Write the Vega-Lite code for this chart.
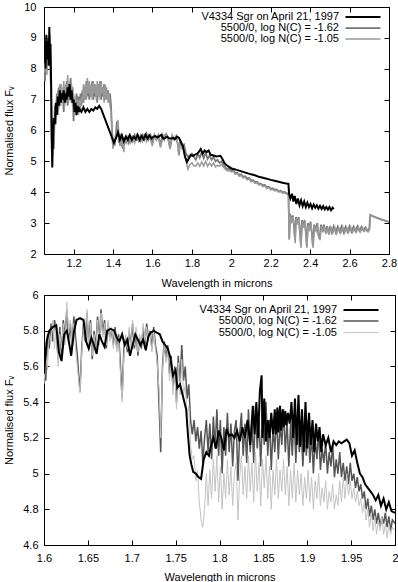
{
  "$schema": "https://vega.github.io/schema/vega-lite/v6.json",
  "padding": {"left": 2, "top": 0, "right": 2, "bottom": 0},
  "columns": 1,
  "spacing": -1,
  "config": {
    "font": "Liberation Sans",
    "view": {"stroke": "black", "strokeWidth": 1},
    "axis": {"domain": false, "grid": false, "tickColor": "black", "tickSize": -5, "tickWidth": 1, "labelColor": "black", "titleColor": "black", "labelFontSize": 11, "titleFontSize": 11, "titleFontWeight": "normal", "labelFlush": false, "labelOverlap": false, "format": "~r"},
    "legend": {"title": null, "orient": "none", "padding": 0, "symbolType": "M-3.5,0H3.5", "symbolSize": 100, "labelAlign": "right", "labelOffset": -30, "labelFontSize": 11, "labelColor": "black", "labelLimit": 0, "rowPadding": 0}
  },
  "resolve": {"scale": {"color": "independent", "strokeWidth": "independent"}},
  "datasets": {
    "top": [
      {"s":"a","x":1.050,"y":8.6},{"s":"a","x":1.055,"y":7.6},{"s":"a","x":1.060,"y":8.9},{"s":"a","x":1.065,"y":8.1},{"s":"a","x":1.070,"y":9.0},{"s":"a","x":1.075,"y":8.2},{"s":"a","x":1.080,"y":8.9},{"s":"a","x":1.085,"y":7.4},{"s":"a","x":1.090,"y":5.2},{"s":"a","x":1.095,"y":6.0},{"s":"a","x":1.100,"y":5.4},{"s":"a","x":1.105,"y":6.8},{"s":"a","x":1.110,"y":6.2},{"s":"a","x":1.115,"y":7.2},{"s":"a","x":1.120,"y":6.5},{"s":"a","x":1.125,"y":7.4},{"s":"a","x":1.130,"y":6.8},{"s":"a","x":1.135,"y":7.5},{"s":"a","x":1.140,"y":6.9},{"s":"a","x":1.145,"y":7.3},{"s":"a","x":1.150,"y":6.6},{"s":"a","x":1.155,"y":7.4},{"s":"a","x":1.160,"y":6.9},{"s":"a","x":1.165,"y":7.6},{"s":"a","x":1.170,"y":6.8},{"s":"a","x":1.175,"y":7.5},{"s":"a","x":1.180,"y":7.0},{"s":"a","x":1.185,"y":7.7},{"s":"a","x":1.190,"y":6.9},{"s":"a","x":1.195,"y":7.4},{"s":"a","x":1.200,"y":6.3},{"s":"a","x":1.205,"y":7.0},{"s":"a","x":1.210,"y":6.6},{"s":"a","x":1.215,"y":7.2},{"s":"a","x":1.220,"y":6.8},{"s":"a","x":1.225,"y":7.1},{"s":"a","x":1.230,"y":6.6},{"s":"a","x":1.235,"y":7.2},{"s":"a","x":1.240,"y":6.8},{"s":"a","x":1.245,"y":7.3},{"s":"a","x":1.250,"y":6.9},{"s":"a","x":1.255,"y":7.4},{"s":"a","x":1.260,"y":7.0},{"s":"a","x":1.265,"y":7.6},{"s":"a","x":1.270,"y":7.1},{"s":"a","x":1.275,"y":7.5},{"s":"a","x":1.280,"y":7.0},{"s":"a","x":1.285,"y":7.4},{"s":"a","x":1.290,"y":7.1},{"s":"a","x":1.295,"y":7.6},{"s":"a","x":1.300,"y":7.0},{"s":"a","x":1.305,"y":7.5},{"s":"a","x":1.310,"y":7.1},{"s":"a","x":1.315,"y":7.4},{"s":"a","x":1.320,"y":6.9},{"s":"a","x":1.325,"y":7.5},{"s":"a","x":1.330,"y":7.1},{"s":"a","x":1.335,"y":7.6},{"s":"a","x":1.340,"y":7.0},{"s":"a","x":1.345,"y":7.4},{"s":"a","x":1.350,"y":7.1},{"s":"a","x":1.355,"y":7.5},{"s":"a","x":1.360,"y":7.0},{"s":"a","x":1.365,"y":7.4},{"s":"a","x":1.370,"y":7.1},{"s":"a","x":1.375,"y":7.3},{"s":"a","x":1.380,"y":6.9},{"s":"a","x":1.385,"y":7.2},{"s":"a","x":1.390,"y":6.8},{"s":"a","x":1.395,"y":6.0},{"s":"a","x":1.400,"y":5.6},{"s":"a","x":1.405,"y":5.5},{"s":"a","x":1.410,"y":5.7},{"s":"a","x":1.415,"y":5.9},{"s":"a","x":1.420,"y":6.3},{"s":"a","x":1.425,"y":6.1},{"s":"a","x":1.430,"y":5.6},{"s":"a","x":1.435,"y":5.9},{"s":"a","x":1.440,"y":5.5},{"s":"a","x":1.445,"y":5.8},{"s":"a","x":1.450,"y":5.4},{"s":"a","x":1.455,"y":5.7},{"s":"a","x":1.460,"y":5.6},{"s":"a","x":1.470,"y":5.8},{"s":"a","x":1.480,"y":5.6},{"s":"a","x":1.490,"y":5.8},{"s":"a","x":1.500,"y":5.65},{"s":"a","x":1.510,"y":5.85},{"s":"a","x":1.520,"y":5.7},{"s":"a","x":1.530,"y":5.8},{"s":"a","x":1.540,"y":5.65},{"s":"a","x":1.550,"y":5.85},{"s":"a","x":1.560,"y":5.7},{"s":"a","x":1.570,"y":5.9},{"s":"a","x":1.580,"y":5.7},{"s":"a","x":1.590,"y":5.85},{"s":"a","x":1.600,"y":5.62},{"s":"a","x":1.610,"y":5.84},{"s":"a","x":1.620,"y":5.70},{"s":"a","x":1.630,"y":5.84},{"s":"a","x":1.640,"y":5.50},{"s":"a","x":1.650,"y":5.86},{"s":"a","x":1.660,"y":5.70},{"s":"a","x":1.670,"y":5.88},{"s":"a","x":1.680,"y":5.74},{"s":"a","x":1.690,"y":5.45},{"s":"a","x":1.700,"y":5.80},{"s":"a","x":1.710,"y":5.70},{"s":"a","x":1.720,"y":5.82},{"s":"a","x":1.730,"y":5.50},{"s":"a","x":1.735,"y":5.2},{"s":"a","x":1.740,"y":5.70},{"s":"a","x":1.750,"y":5.50},{"s":"a","x":1.760,"y":5.55},{"s":"a","x":1.770,"y":5.25},{"s":"a","x":1.780,"y":5.15},{"s":"a","x":1.790,"y":5.20},{"s":"a","x":1.800,"y":5.25},{"s":"a","x":1.810,"y":5.15},{"s":"a","x":1.820,"y":5.05},{"s":"a","x":1.830,"y":5.25},{"s":"a","x":1.840,"y":5.12},{"s":"a","x":1.850,"y":5.30},{"s":"a","x":1.860,"y":5.10},{"s":"a","x":1.870,"y":5.28},{"s":"a","x":1.880,"y":5.08},{"s":"a","x":1.890,"y":5.20},{"s":"a","x":1.900,"y":5.05},{"s":"a","x":1.910,"y":5.15},{"s":"a","x":1.920,"y":5.00},{"s":"a","x":1.930,"y":5.05},{"s":"a","x":1.940,"y":4.95},{"s":"a","x":1.950,"y":5.00},{"s":"a","x":1.960,"y":4.90},{"s":"a","x":1.970,"y":4.80},{"s":"a","x":1.980,"y":4.75},{"s":"a","x":1.990,"y":4.78},{"s":"a","x":2.000,"y":4.70},{"s":"a","x":2.010,"y":4.72},{"s":"a","x":2.020,"y":4.62},{"s":"a","x":2.030,"y":4.64},{"s":"a","x":2.040,"y":4.56},{"s":"a","x":2.050,"y":4.58},{"s":"a","x":2.060,"y":4.50},{"s":"a","x":2.070,"y":4.52},{"s":"a","x":2.080,"y":4.45},{"s":"a","x":2.090,"y":4.46},{"s":"a","x":2.100,"y":4.38},{"s":"a","x":2.110,"y":4.40},{"s":"a","x":2.120,"y":4.33},{"s":"a","x":2.130,"y":4.34},{"s":"a","x":2.140,"y":4.27},{"s":"a","x":2.150,"y":4.28},{"s":"a","x":2.160,"y":4.22},{"s":"a","x":2.170,"y":4.24},{"s":"a","x":2.180,"y":4.16},{"s":"a","x":2.190,"y":4.18},{"s":"a","x":2.200,"y":4.12},{"s":"a","x":2.210,"y":4.13},{"s":"a","x":2.220,"y":4.08},{"s":"a","x":2.230,"y":4.09},{"s":"a","x":2.240,"y":4.03},{"s":"a","x":2.250,"y":4.05},{"s":"a","x":2.260,"y":4.00},{"s":"a","x":2.270,"y":4.01},{"s":"a","x":2.280,"y":3.97},{"s":"a","x":2.290,"y":3.95},{"s":"a","x":2.294,"y":2.5},{"s":"a","x":2.298,"y":3.3},{"s":"a","x":2.305,"y":3.1},{"s":"a","x":2.312,"y":3.25},{"s":"a","x":2.318,"y":2.9},{"s":"a","x":2.323,"y":2.45},{"s":"a","x":2.328,"y":3.2},{"s":"a","x":2.335,"y":3.0},{"s":"a","x":2.342,"y":3.2},{"s":"a","x":2.348,"y":2.7},{"s":"a","x":2.353,"y":2.3},{"s":"a","x":2.358,"y":3.1},{"s":"a","x":2.365,"y":2.9},{"s":"a","x":2.372,"y":3.1},{"s":"a","x":2.378,"y":2.7},{"s":"a","x":2.383,"y":2.25},{"s":"a","x":2.388,"y":3.0},{"s":"a","x":2.395,"y":2.85},{"s":"a","x":2.402,"y":3.05},{"s":"a","x":2.408,"y":2.7},{"s":"a","x":2.414,"y":2.25},{"s":"a","x":2.420,"y":2.95},{"s":"a","x":2.428,"y":2.8},{"s":"a","x":2.436,"y":3.0},{"s":"a","x":2.442,"y":2.6},{"s":"a","x":2.448,"y":2.5},{"s":"a","x":2.455,"y":2.95},{"s":"a","x":2.462,"y":2.75},{"s":"a","x":2.470,"y":2.95},{"s":"a","x":2.478,"y":2.7},{"s":"a","x":2.486,"y":2.9},{"s":"a","x":2.494,"y":2.65},{"s":"a","x":2.502,"y":2.9},{"s":"a","x":2.510,"y":2.7},{"s":"a","x":2.520,"y":2.9},{"s":"a","x":2.530,"y":2.7},{"s":"a","x":2.540,"y":2.88},{"s":"a","x":2.550,"y":2.72},{"s":"a","x":2.560,"y":2.9},{"s":"a","x":2.570,"y":2.7},{"s":"a","x":2.580,"y":2.88},{"s":"a","x":2.590,"y":2.72},{"s":"a","x":2.600,"y":2.9},{"s":"a","x":2.610,"y":2.72},{"s":"a","x":2.620,"y":2.88},{"s":"a","x":2.630,"y":2.74},{"s":"a","x":2.640,"y":2.9},{"s":"a","x":2.650,"y":2.75},{"s":"a","x":2.660,"y":2.88},{"s":"a","x":2.670,"y":2.76},{"s":"a","x":2.680,"y":2.86},{"s":"a","x":2.690,"y":2.74},{"s":"a","x":2.700,"y":2.82},{"s":"a","x":2.705,"y":3.27},{"s":"a","x":2.720,"y":3.22},{"s":"a","x":2.740,"y":3.17},{"s":"a","x":2.760,"y":3.12},{"s":"a","x":2.780,"y":3.08},{"s":"a","x":2.800,"y":3.04},
      {"s":"b","x":1.050,"y":8.3},{"s":"b","x":1.055,"y":7.9},{"s":"b","x":1.060,"y":8.6},{"s":"b","x":1.065,"y":7.8},{"s":"b","x":1.070,"y":8.8},{"s":"b","x":1.075,"y":8.5},{"s":"b","x":1.080,"y":9.1},{"s":"b","x":1.085,"y":7.0},{"s":"b","x":1.090,"y":5.0},{"s":"b","x":1.095,"y":6.2},{"s":"b","x":1.100,"y":5.8},{"s":"b","x":1.105,"y":6.5},{"s":"b","x":1.110,"y":6.9},{"s":"b","x":1.115,"y":6.6},{"s":"b","x":1.120,"y":7.3},{"s":"b","x":1.125,"y":6.7},{"s":"b","x":1.130,"y":7.5},{"s":"b","x":1.135,"y":6.8},{"s":"b","x":1.140,"y":7.4},{"s":"b","x":1.145,"y":6.9},{"s":"b","x":1.150,"y":7.6},{"s":"b","x":1.155,"y":6.8},{"s":"b","x":1.160,"y":7.5},{"s":"b","x":1.165,"y":7.1},{"s":"b","x":1.170,"y":7.8},{"s":"b","x":1.175,"y":6.9},{"s":"b","x":1.180,"y":7.6},{"s":"b","x":1.185,"y":7.1},{"s":"b","x":1.190,"y":7.5},{"s":"b","x":1.195,"y":6.8},{"s":"b","x":1.200,"y":7.2},{"s":"b","x":1.205,"y":6.5},{"s":"b","x":1.210,"y":7.1},{"s":"b","x":1.215,"y":6.7},{"s":"b","x":1.220,"y":7.0},{"s":"b","x":1.225,"y":6.5},{"s":"b","x":1.230,"y":7.0},{"s":"b","x":1.235,"y":6.7},{"s":"b","x":1.240,"y":7.1},{"s":"b","x":1.245,"y":6.9},{"s":"b","x":1.250,"y":7.5},{"s":"b","x":1.255,"y":7.0},{"s":"b","x":1.260,"y":7.5},{"s":"b","x":1.265,"y":7.0},{"s":"b","x":1.270,"y":7.7},{"s":"b","x":1.275,"y":7.2},{"s":"b","x":1.280,"y":7.6},{"s":"b","x":1.285,"y":7.1},{"s":"b","x":1.290,"y":7.5},{"s":"b","x":1.295,"y":7.0},{"s":"b","x":1.300,"y":7.6},{"s":"b","x":1.305,"y":7.2},{"s":"b","x":1.310,"y":7.5},{"s":"b","x":1.315,"y":7.0},{"s":"b","x":1.320,"y":7.6},{"s":"b","x":1.325,"y":7.1},{"s":"b","x":1.330,"y":7.5},{"s":"b","x":1.335,"y":7.0},{"s":"b","x":1.340,"y":7.6},{"s":"b","x":1.345,"y":7.2},{"s":"b","x":1.350,"y":7.4},{"s":"b","x":1.355,"y":6.9},{"s":"b","x":1.360,"y":7.5},{"s":"b","x":1.365,"y":7.0},{"s":"b","x":1.370,"y":7.3},{"s":"b","x":1.375,"y":6.9},{"s":"b","x":1.380,"y":7.2},{"s":"b","x":1.385,"y":6.8},{"s":"b","x":1.390,"y":6.6},{"s":"b","x":1.395,"y":5.8},{"s":"b","x":1.400,"y":5.4},{"s":"b","x":1.405,"y":5.7},{"s":"b","x":1.410,"y":5.5},{"s":"b","x":1.415,"y":6.0},{"s":"b","x":1.420,"y":5.8},{"s":"b","x":1.425,"y":6.35},{"s":"b","x":1.430,"y":5.8},{"s":"b","x":1.435,"y":5.5},{"s":"b","x":1.440,"y":5.75},{"s":"b","x":1.445,"y":5.45},{"s":"b","x":1.450,"y":5.7},{"s":"b","x":1.455,"y":5.3},{"s":"b","x":1.460,"y":5.8},{"s":"b","x":1.470,"y":5.6},{"s":"b","x":1.480,"y":5.85},{"s":"b","x":1.490,"y":5.6},{"s":"b","x":1.500,"y":5.8},{"s":"b","x":1.510,"y":5.6},{"s":"b","x":1.520,"y":5.85},{"s":"b","x":1.530,"y":5.65},{"s":"b","x":1.540,"y":5.85},{"s":"b","x":1.550,"y":5.65},{"s":"b","x":1.560,"y":5.9},{"s":"b","x":1.570,"y":5.65},{"s":"b","x":1.580,"y":5.85},{"s":"b","x":1.590,"y":5.7},{"s":"b","x":1.600,"y":5.5},{"s":"b","x":1.610,"y":5.86},{"s":"b","x":1.620,"y":5.70},{"s":"b","x":1.630,"y":5.86},{"s":"b","x":1.641,"y":5.45},{"s":"b","x":1.650,"y":5.70},{"s":"b","x":1.660,"y":5.86},{"s":"b","x":1.670,"y":5.84},{"s":"b","x":1.680,"y":5.70},{"s":"b","x":1.689,"y":5.40},{"s":"b","x":1.700,"y":5.86},{"s":"b","x":1.710,"y":5.72},{"s":"b","x":1.720,"y":5.78},{"s":"b","x":1.730,"y":5.55},{"s":"b","x":1.733,"y":5.2},{"s":"b","x":1.740,"y":5.70},{"s":"b","x":1.750,"y":5.40},{"s":"b","x":1.760,"y":5.45},{"s":"b","x":1.770,"y":5.05},{"s":"b","x":1.780,"y":4.75},{"s":"b","x":1.790,"y":4.90},{"s":"b","x":1.800,"y":4.95},{"s":"b","x":1.810,"y":4.85},{"s":"b","x":1.820,"y":4.85},{"s":"b","x":1.830,"y":4.95},{"s":"b","x":1.840,"y":4.84},{"s":"b","x":1.850,"y":4.98},{"s":"b","x":1.860,"y":4.85},{"s":"b","x":1.870,"y":5.0},{"s":"b","x":1.880,"y":4.84},{"s":"b","x":1.890,"y":4.95},{"s":"b","x":1.900,"y":4.85},{"s":"b","x":1.910,"y":4.95},{"s":"b","x":1.920,"y":4.82},{"s":"b","x":1.930,"y":4.88},{"s":"b","x":1.940,"y":4.84},{"s":"b","x":1.950,"y":4.90},{"s":"b","x":1.960,"y":4.82},{"s":"b","x":1.970,"y":4.74},{"s":"b","x":1.980,"y":4.70},{"s":"b","x":1.990,"y":4.70},{"s":"b","x":2.000,"y":4.66},{"s":"b","x":2.010,"y":4.68},{"s":"b","x":2.020,"y":4.58},{"s":"b","x":2.030,"y":4.61},{"s":"b","x":2.040,"y":4.52},{"s":"b","x":2.050,"y":4.55},{"s":"b","x":2.060,"y":4.46},{"s":"b","x":2.070,"y":4.49},{"s":"b","x":2.080,"y":4.40},{"s":"b","x":2.090,"y":4.43},{"s":"b","x":2.100,"y":4.34},{"s":"b","x":2.110,"y":4.37},{"s":"b","x":2.120,"y":4.29},{"s":"b","x":2.130,"y":4.31},{"s":"b","x":2.140,"y":4.23},{"s":"b","x":2.150,"y":4.26},{"s":"b","x":2.160,"y":4.18},{"s":"b","x":2.170,"y":4.21},{"s":"b","x":2.180,"y":4.12},{"s":"b","x":2.190,"y":4.15},{"s":"b","x":2.200,"y":4.08},{"s":"b","x":2.210,"y":4.10},{"s":"b","x":2.220,"y":4.04},{"s":"b","x":2.230,"y":4.06},{"s":"b","x":2.240,"y":4.00},{"s":"b","x":2.250,"y":4.02},{"s":"b","x":2.260,"y":3.97},{"s":"b","x":2.270,"y":3.98},{"s":"b","x":2.280,"y":3.94},{"s":"b","x":2.290,"y":3.92},{"s":"b","x":2.294,"y":2.45},{"s":"b","x":2.300,"y":3.25},{"s":"b","x":2.307,"y":3.05},{"s":"b","x":2.314,"y":3.2},{"s":"b","x":2.319,"y":2.8},{"s":"b","x":2.324,"y":2.35},{"s":"b","x":2.330,"y":3.15},{"s":"b","x":2.337,"y":2.95},{"s":"b","x":2.344,"y":3.15},{"s":"b","x":2.349,"y":2.6},{"s":"b","x":2.354,"y":2.2},{"s":"b","x":2.360,"y":3.05},{"s":"b","x":2.367,"y":2.85},{"s":"b","x":2.374,"y":3.05},{"s":"b","x":2.379,"y":2.6},{"s":"b","x":2.384,"y":2.2},{"s":"b","x":2.390,"y":2.95},{"s":"b","x":2.397,"y":2.8},{"s":"b","x":2.404,"y":3.0},{"s":"b","x":2.409,"y":2.6},{"s":"b","x":2.415,"y":2.2},{"s":"b","x":2.422,"y":2.9},{"s":"b","x":2.430,"y":2.75},{"s":"b","x":2.438,"y":2.95},{"s":"b","x":2.444,"y":2.55},{"s":"b","x":2.450,"y":2.45},{"s":"b","x":2.457,"y":2.9},{"s":"b","x":2.464,"y":2.7},{"s":"b","x":2.472,"y":2.9},{"s":"b","x":2.480,"y":2.65},{"s":"b","x":2.488,"y":2.88},{"s":"b","x":2.496,"y":2.62},{"s":"b","x":2.505,"y":2.86},{"s":"b","x":2.515,"y":2.68},{"s":"b","x":2.525,"y":2.86},{"s":"b","x":2.535,"y":2.66},{"s":"b","x":2.545,"y":2.86},{"s":"b","x":2.555,"y":2.68},{"s":"b","x":2.565,"y":2.88},{"s":"b","x":2.575,"y":2.68},{"s":"b","x":2.585,"y":2.86},{"s":"b","x":2.595,"y":2.7},{"s":"b","x":2.605,"y":2.88},{"s":"b","x":2.615,"y":2.7},{"s":"b","x":2.625,"y":2.86},{"s":"b","x":2.635,"y":2.72},{"s":"b","x":2.645,"y":2.88},{"s":"b","x":2.655,"y":2.72},{"s":"b","x":2.665,"y":2.86},{"s":"b","x":2.675,"y":2.74},{"s":"b","x":2.685,"y":2.84},{"s":"b","x":2.695,"y":2.72},{"s":"b","x":2.702,"y":2.8},{"s":"b","x":2.706,"y":3.25},{"s":"b","x":2.720,"y":3.21},{"s":"b","x":2.740,"y":3.16},{"s":"b","x":2.760,"y":3.11},{"s":"b","x":2.780,"y":3.07},{"s":"b","x":2.800,"y":3.03},
      {"s":"o","x":1.050,"y":8.2},{"s":"o","x":1.054,"y":8.9},{"s":"o","x":1.058,"y":8.0},{"s":"o","x":1.062,"y":9.1},{"s":"o","x":1.066,"y":8.3},{"s":"o","x":1.070,"y":8.9},{"s":"o","x":1.074,"y":8.1},{"s":"o","x":1.077,"y":9.35},{"s":"o","x":1.080,"y":8.4},{"s":"o","x":1.083,"y":8.8},{"s":"o","x":1.086,"y":7.6},{"s":"o","x":1.089,"y":6.0},{"s":"o","x":1.092,"y":4.8},{"s":"o","x":1.095,"y":5.6},{"s":"o","x":1.100,"y":6.4},{"s":"o","x":1.105,"y":6.2},{"s":"o","x":1.110,"y":6.9},{"s":"o","x":1.115,"y":6.5},{"s":"o","x":1.120,"y":7.1},{"s":"o","x":1.125,"y":6.8},{"s":"o","x":1.130,"y":7.3},{"s":"o","x":1.135,"y":6.9},{"s":"o","x":1.140,"y":7.2},{"s":"o","x":1.145,"y":7.0},{"s":"o","x":1.150,"y":7.3},{"s":"o","x":1.155,"y":6.9},{"s":"o","x":1.160,"y":7.2},{"s":"o","x":1.165,"y":7.0},{"s":"o","x":1.170,"y":7.4},{"s":"o","x":1.175,"y":7.1},{"s":"o","x":1.180,"y":7.5},{"s":"o","x":1.185,"y":7.0},{"s":"o","x":1.190,"y":7.3},{"s":"o","x":1.195,"y":6.9},{"s":"o","x":1.200,"y":7.0},{"s":"o","x":1.205,"y":6.6},{"s":"o","x":1.210,"y":6.9},{"s":"o","x":1.215,"y":6.5},{"s":"o","x":1.220,"y":6.8},{"s":"o","x":1.225,"y":6.6},{"s":"o","x":1.230,"y":6.7},{"s":"o","x":1.240,"y":6.6},{"s":"o","x":1.250,"y":6.75},{"s":"o","x":1.260,"y":6.6},{"s":"o","x":1.270,"y":6.7},{"s":"o","x":1.280,"y":6.6},{"s":"o","x":1.290,"y":6.7},{"s":"o","x":1.300,"y":6.65},{"s":"o","x":1.310,"y":6.75},{"s":"o","x":1.320,"y":6.7},{"s":"o","x":1.330,"y":6.8},{"s":"o","x":1.340,"y":6.7},{"s":"o","x":1.405,"y":5.6},{"s":"o","x":1.415,"y":5.75},{"s":"o","x":1.425,"y":5.95},{"s":"o","x":1.435,"y":5.7},{"s":"o","x":1.445,"y":5.85},{"s":"o","x":1.455,"y":5.65},{"s":"o","x":1.465,"y":5.8},{"s":"o","x":1.475,"y":5.7},{"s":"o","x":1.485,"y":5.85},{"s":"o","x":1.495,"y":5.7},{"s":"o","x":1.505,"y":5.8},{"s":"o","x":1.515,"y":5.72},{"s":"o","x":1.525,"y":5.86},{"s":"o","x":1.535,"y":5.7},{"s":"o","x":1.545,"y":5.82},{"s":"o","x":1.555,"y":5.72},{"s":"o","x":1.565,"y":5.86},{"s":"o","x":1.575,"y":5.74},{"s":"o","x":1.585,"y":5.84},{"s":"o","x":1.595,"y":5.74},{"s":"o","x":1.605,"y":5.80},{"s":"o","x":1.615,"y":5.82},{"s":"o","x":1.625,"y":5.78},{"s":"o","x":1.635,"y":5.82},{"s":"o","x":1.645,"y":5.86},{"s":"o","x":1.655,"y":5.74},{"s":"o","x":1.665,"y":5.76},{"s":"o","x":1.675,"y":5.80},{"s":"o","x":1.685,"y":5.75},{"s":"o","x":1.695,"y":5.74},{"s":"o","x":1.705,"y":5.76},{"s":"o","x":1.715,"y":5.72},{"s":"o","x":1.725,"y":5.80},{"s":"o","x":1.735,"y":5.76},{"s":"o","x":1.745,"y":5.62},{"s":"o","x":1.755,"y":5.48},{"s":"o","x":1.765,"y":5.15},{"s":"o","x":1.775,"y":4.98},{"s":"o","x":1.785,"y":5.10},{"s":"o","x":1.795,"y":5.20},{"s":"o","x":1.805,"y":5.18},{"s":"o","x":1.815,"y":5.22},{"s":"o","x":1.825,"y":5.24},{"s":"o","x":1.835,"y":5.30},{"s":"o","x":1.845,"y":5.40},{"s":"o","x":1.855,"y":5.25},{"s":"o","x":1.865,"y":5.35},{"s":"o","x":1.875,"y":5.30},{"s":"o","x":1.885,"y":5.35},{"s":"o","x":1.895,"y":5.22},{"s":"o","x":1.905,"y":5.20},{"s":"o","x":1.915,"y":5.18},{"s":"o","x":1.925,"y":5.16},{"s":"o","x":1.935,"y":5.17},{"s":"o","x":1.945,"y":5.18},{"s":"o","x":1.955,"y":5.08},{"s":"o","x":1.965,"y":4.95},{"s":"o","x":1.975,"y":4.88},{"s":"o","x":1.985,"y":4.84},{"s":"o","x":1.995,"y":4.80},{"s":"o","x":2.005,"y":4.76},{"s":"o","x":2.020,"y":4.74},{"s":"o","x":2.040,"y":4.70},{"s":"o","x":2.060,"y":4.66},{"s":"o","x":2.080,"y":4.62},{"s":"o","x":2.100,"y":4.58},{"s":"o","x":2.120,"y":4.55},{"s":"o","x":2.140,"y":4.50},{"s":"o","x":2.160,"y":4.47},{"s":"o","x":2.180,"y":4.44},{"s":"o","x":2.200,"y":4.40},{"s":"o","x":2.220,"y":4.37},{"s":"o","x":2.240,"y":4.34},{"s":"o","x":2.260,"y":4.31},{"s":"o","x":2.280,"y":4.28},{"s":"o","x":2.290,"y":4.27},{"s":"o","x":2.293,"y":3.95},{"s":"o","x":2.300,"y":3.80},{"s":"o","x":2.308,"y":3.95},{"s":"o","x":2.315,"y":3.70},{"s":"o","x":2.322,"y":3.88},{"s":"o","x":2.330,"y":3.62},{"s":"o","x":2.338,"y":3.80},{"s":"o","x":2.346,"y":3.58},{"s":"o","x":2.354,"y":3.74},{"s":"o","x":2.362,"y":3.55},{"s":"o","x":2.370,"y":3.70},{"s":"o","x":2.378,"y":3.52},{"s":"o","x":2.386,"y":3.66},{"s":"o","x":2.394,"y":3.52},{"s":"o","x":2.402,"y":3.62},{"s":"o","x":2.410,"y":3.48},{"s":"o","x":2.418,"y":3.60},{"s":"o","x":2.426,"y":3.50},{"s":"o","x":2.434,"y":3.58},{"s":"o","x":2.442,"y":3.47},{"s":"o","x":2.450,"y":3.56},{"s":"o","x":2.458,"y":3.46},{"s":"o","x":2.466,"y":3.55},{"s":"o","x":2.474,"y":3.45},{"s":"o","x":2.482,"y":3.52},{"s":"o","x":2.490,"y":3.44},{"s":"o","x":2.498,"y":3.52},{"s":"o","x":2.506,"y":3.42},{"s":"o","x":2.514,"y":3.50},{"s":"o","x":2.520,"y":3.45}
    ],
    "bot": [
      {"s":"a","x":1.600,"y":5.62},{"s":"a","x":1.602,"y":5.52},{"s":"a","x":1.604,"y":5.78},{"s":"a","x":1.606,"y":5.70},{"s":"a","x":1.608,"y":5.84},{"s":"a","x":1.610,"y":5.74},{"s":"a","x":1.612,"y":5.86},{"s":"a","x":1.614,"y":5.80},{"s":"a","x":1.616,"y":5.64},{"s":"a","x":1.618,"y":5.82},{"s":"a","x":1.620,"y":5.66},{"s":"a","x":1.622,"y":5.86},{"s":"a","x":1.624,"y":5.76},{"s":"a","x":1.626,"y":5.92},{"s":"a","x":1.628,"y":5.75},{"s":"a","x":1.630,"y":5.84},{"s":"a","x":1.632,"y":5.70},{"s":"a","x":1.634,"y":5.88},{"s":"a","x":1.636,"y":5.76},{"s":"a","x":1.638,"y":5.66},{"s":"a","x":1.640,"y":5.52},{"s":"a","x":1.641,"y":5.46},{"s":"a","x":1.643,"y":5.70},{"s":"a","x":1.645,"y":5.84},{"s":"a","x":1.647,"y":5.74},{"s":"a","x":1.649,"y":5.90},{"s":"a","x":1.651,"y":5.72},{"s":"a","x":1.653,"y":5.86},{"s":"a","x":1.655,"y":5.64},{"s":"a","x":1.657,"y":5.80},{"s":"a","x":1.659,"y":5.70},{"s":"a","x":1.661,"y":5.88},{"s":"a","x":1.663,"y":5.74},{"s":"a","x":1.665,"y":5.92},{"s":"a","x":1.667,"y":5.78},{"s":"a","x":1.669,"y":5.86},{"s":"a","x":1.671,"y":5.70},{"s":"a","x":1.673,"y":5.84},{"s":"a","x":1.675,"y":5.76},{"s":"a","x":1.677,"y":5.80},{"s":"a","x":1.679,"y":5.72},{"s":"a","x":1.681,"y":5.82},{"s":"a","x":1.683,"y":5.70},{"s":"a","x":1.685,"y":5.78},{"s":"a","x":1.687,"y":5.62},{"s":"a","x":1.689,"y":5.42},{"s":"a","x":1.691,"y":5.70},{"s":"a","x":1.693,"y":5.76},{"s":"a","x":1.695,"y":5.68},{"s":"a","x":1.697,"y":5.80},{"s":"a","x":1.699,"y":5.72},{"s":"a","x":1.701,"y":5.84},{"s":"a","x":1.703,"y":5.70},{"s":"a","x":1.705,"y":5.80},{"s":"a","x":1.707,"y":5.66},{"s":"a","x":1.709,"y":5.76},{"s":"a","x":1.711,"y":5.70},{"s":"a","x":1.713,"y":5.82},{"s":"a","x":1.715,"y":5.72},{"s":"a","x":1.717,"y":5.84},{"s":"a","x":1.719,"y":5.76},{"s":"a","x":1.721,"y":5.80},{"s":"a","x":1.723,"y":5.70},{"s":"a","x":1.725,"y":5.82},{"s":"a","x":1.727,"y":5.72},{"s":"a","x":1.729,"y":5.66},{"s":"a","x":1.731,"y":5.40},{"s":"a","x":1.733,"y":5.12},{"s":"a","x":1.735,"y":5.60},{"s":"a","x":1.737,"y":5.74},{"s":"a","x":1.739,"y":5.64},{"s":"a","x":1.741,"y":5.72},{"s":"a","x":1.743,"y":5.56},{"s":"a","x":1.745,"y":5.66},{"s":"a","x":1.747,"y":5.48},{"s":"a","x":1.749,"y":5.60},{"s":"a","x":1.751,"y":5.40},{"s":"a","x":1.753,"y":5.66},{"s":"a","x":1.755,"y":5.50},{"s":"a","x":1.757,"y":5.72},{"s":"a","x":1.759,"y":5.52},{"s":"a","x":1.761,"y":5.60},{"s":"a","x":1.763,"y":5.42},{"s":"a","x":1.765,"y":5.50},{"s":"a","x":1.767,"y":5.30},{"s":"a","x":1.769,"y":5.22},{"s":"a","x":1.771,"y":5.30},{"s":"a","x":1.773,"y":5.18},{"s":"a","x":1.775,"y":5.26},{"s":"a","x":1.777,"y":5.14},{"s":"a","x":1.779,"y":5.24},{"s":"a","x":1.781,"y":5.06},{"s":"a","x":1.783,"y":5.20},{"s":"a","x":1.785,"y":5.30},{"s":"a","x":1.787,"y":5.12},{"s":"a","x":1.789,"y":5.28},{"s":"a","x":1.791,"y":5.08},{"s":"a","x":1.793,"y":5.32},{"s":"a","x":1.795,"y":5.14},{"s":"a","x":1.797,"y":5.36},{"s":"a","x":1.799,"y":5.10},{"s":"a","x":1.801,"y":5.30},{"s":"a","x":1.803,"y":5.00},{"s":"a","x":1.805,"y":5.26},{"s":"a","x":1.807,"y":5.10},{"s":"a","x":1.809,"y":5.34},{"s":"a","x":1.811,"y":5.12},{"s":"a","x":1.813,"y":5.28},{"s":"a","x":1.815,"y":5.04},{"s":"a","x":1.817,"y":5.24},{"s":"a","x":1.819,"y":5.30},{"s":"a","x":1.821,"y":4.96},{"s":"a","x":1.823,"y":5.22},{"s":"a","x":1.825,"y":5.34},{"s":"a","x":1.827,"y":5.10},{"s":"a","x":1.829,"y":5.28},{"s":"a","x":1.831,"y":5.06},{"s":"a","x":1.833,"y":5.36},{"s":"a","x":1.835,"y":5.12},{"s":"a","x":1.837,"y":5.30},{"s":"a","x":1.839,"y":5.06},{"s":"a","x":1.841,"y":5.38},{"s":"a","x":1.843,"y":5.14},{"s":"a","x":1.845,"y":5.30},{"s":"a","x":1.847,"y":5.04},{"s":"a","x":1.849,"y":5.34},{"s":"a","x":1.851,"y":5.16},{"s":"a","x":1.853,"y":5.40},{"s":"a","x":1.855,"y":5.10},{"s":"a","x":1.857,"y":5.30},{"s":"a","x":1.859,"y":5.02},{"s":"a","x":1.861,"y":5.26},{"s":"a","x":1.863,"y":5.12},{"s":"a","x":1.865,"y":5.34},{"s":"a","x":1.867,"y":5.08},{"s":"a","x":1.869,"y":5.28},{"s":"a","x":1.871,"y":5.16},{"s":"a","x":1.873,"y":5.36},{"s":"a","x":1.875,"y":5.12},{"s":"a","x":1.877,"y":5.30},{"s":"a","x":1.879,"y":5.04},{"s":"a","x":1.881,"y":5.28},{"s":"a","x":1.883,"y":5.10},{"s":"a","x":1.885,"y":5.34},{"s":"a","x":1.887,"y":5.06},{"s":"a","x":1.889,"y":5.30},{"s":"a","x":1.891,"y":5.12},{"s":"a","x":1.893,"y":5.26},{"s":"a","x":1.895,"y":5.04},{"s":"a","x":1.897,"y":5.24},{"s":"a","x":1.899,"y":5.10},{"s":"a","x":1.901,"y":5.30},{"s":"a","x":1.903,"y":5.06},{"s":"a","x":1.905,"y":5.22},{"s":"a","x":1.907,"y":5.00},{"s":"a","x":1.909,"y":5.20},{"s":"a","x":1.911,"y":5.08},{"s":"a","x":1.913,"y":5.24},{"s":"a","x":1.915,"y":5.02},{"s":"a","x":1.917,"y":5.14},{"s":"a","x":1.919,"y":5.06},{"s":"a","x":1.921,"y":5.18},{"s":"a","x":1.923,"y":5.00},{"s":"a","x":1.925,"y":5.12},{"s":"a","x":1.927,"y":5.04},{"s":"a","x":1.929,"y":5.16},{"s":"a","x":1.931,"y":4.98},{"s":"a","x":1.933,"y":5.08},{"s":"a","x":1.935,"y":5.00},{"s":"a","x":1.937,"y":5.12},{"s":"a","x":1.939,"y":4.98},{"s":"a","x":1.941,"y":5.06},{"s":"a","x":1.943,"y":4.96},{"s":"a","x":1.945,"y":5.04},{"s":"a","x":1.947,"y":4.94},{"s":"a","x":1.949,"y":5.06},{"s":"a","x":1.951,"y":4.96},{"s":"a","x":1.953,"y":5.00},{"s":"a","x":1.955,"y":4.92},{"s":"a","x":1.957,"y":4.98},{"s":"a","x":1.959,"y":4.90},{"s":"a","x":1.961,"y":4.94},{"s":"a","x":1.963,"y":4.86},{"s":"a","x":1.965,"y":4.90},{"s":"a","x":1.967,"y":4.80},{"s":"a","x":1.969,"y":4.86},{"s":"a","x":1.971,"y":4.76},{"s":"a","x":1.973,"y":4.82},{"s":"a","x":1.975,"y":4.74},{"s":"a","x":1.977,"y":4.80},{"s":"a","x":1.979,"y":4.72},{"s":"a","x":1.981,"y":4.78},{"s":"a","x":1.983,"y":4.70},{"s":"a","x":1.985,"y":4.76},{"s":"a","x":1.987,"y":4.72},{"s":"a","x":1.989,"y":4.78},{"s":"a","x":1.991,"y":4.70},{"s":"a","x":1.993,"y":4.76},{"s":"a","x":1.995,"y":4.68},{"s":"a","x":1.997,"y":4.74},{"s":"a","x":2.000,"y":4.72},
      {"s":"b","x":1.600,"y":5.50},{"s":"b","x":1.602,"y":5.66},{"s":"b","x":1.604,"y":5.58},{"s":"b","x":1.606,"y":5.80},{"s":"b","x":1.608,"y":5.74},{"s":"b","x":1.610,"y":5.86},{"s":"b","x":1.612,"y":5.70},{"s":"b","x":1.614,"y":5.84},{"s":"b","x":1.616,"y":5.60},{"s":"b","x":1.618,"y":5.78},{"s":"b","x":1.620,"y":5.70},{"s":"b","x":1.622,"y":5.84},{"s":"b","x":1.624,"y":5.72},{"s":"b","x":1.626,"y":5.96},{"s":"b","x":1.628,"y":5.78},{"s":"b","x":1.630,"y":5.86},{"s":"b","x":1.632,"y":5.72},{"s":"b","x":1.634,"y":5.84},{"s":"b","x":1.636,"y":5.70},{"s":"b","x":1.638,"y":5.60},{"s":"b","x":1.640,"y":5.50},{"s":"b","x":1.641,"y":5.45},{"s":"b","x":1.643,"y":5.68},{"s":"b","x":1.645,"y":5.82},{"s":"b","x":1.647,"y":5.76},{"s":"b","x":1.649,"y":5.92},{"s":"b","x":1.651,"y":5.70},{"s":"b","x":1.653,"y":5.84},{"s":"b","x":1.655,"y":5.66},{"s":"b","x":1.657,"y":5.78},{"s":"b","x":1.659,"y":5.68},{"s":"b","x":1.661,"y":5.86},{"s":"b","x":1.663,"y":5.72},{"s":"b","x":1.665,"y":5.90},{"s":"b","x":1.667,"y":5.76},{"s":"b","x":1.669,"y":5.84},{"s":"b","x":1.671,"y":5.72},{"s":"b","x":1.673,"y":5.86},{"s":"b","x":1.675,"y":5.74},{"s":"b","x":1.677,"y":5.82},{"s":"b","x":1.679,"y":5.70},{"s":"b","x":1.681,"y":5.80},{"s":"b","x":1.683,"y":5.68},{"s":"b","x":1.685,"y":5.76},{"s":"b","x":1.687,"y":5.58},{"s":"b","x":1.689,"y":5.40},{"s":"b","x":1.691,"y":5.66},{"s":"b","x":1.693,"y":5.78},{"s":"b","x":1.695,"y":5.70},{"s":"b","x":1.697,"y":5.82},{"s":"b","x":1.699,"y":5.70},{"s":"b","x":1.701,"y":5.86},{"s":"b","x":1.703,"y":5.72},{"s":"b","x":1.705,"y":5.82},{"s":"b","x":1.707,"y":5.68},{"s":"b","x":1.709,"y":5.78},{"s":"b","x":1.711,"y":5.72},{"s":"b","x":1.713,"y":5.84},{"s":"b","x":1.715,"y":5.74},{"s":"b","x":1.717,"y":5.82},{"s":"b","x":1.719,"y":5.74},{"s":"b","x":1.721,"y":5.78},{"s":"b","x":1.723,"y":5.68},{"s":"b","x":1.725,"y":5.80},{"s":"b","x":1.727,"y":5.70},{"s":"b","x":1.729,"y":5.62},{"s":"b","x":1.731,"y":5.48},{"s":"b","x":1.733,"y":5.20},{"s":"b","x":1.735,"y":5.58},{"s":"b","x":1.737,"y":5.72},{"s":"b","x":1.739,"y":5.62},{"s":"b","x":1.741,"y":5.70},{"s":"b","x":1.743,"y":5.52},{"s":"b","x":1.745,"y":5.64},{"s":"b","x":1.747,"y":5.44},{"s":"b","x":1.749,"y":5.58},{"s":"b","x":1.751,"y":5.36},{"s":"b","x":1.753,"y":5.62},{"s":"b","x":1.755,"y":5.44},{"s":"b","x":1.757,"y":5.64},{"s":"b","x":1.759,"y":5.44},{"s":"b","x":1.761,"y":5.50},{"s":"b","x":1.763,"y":5.32},{"s":"b","x":1.765,"y":5.38},{"s":"b","x":1.767,"y":5.16},{"s":"b","x":1.769,"y":5.08},{"s":"b","x":1.771,"y":5.10},{"s":"b","x":1.773,"y":4.96},{"s":"b","x":1.775,"y":5.02},{"s":"b","x":1.777,"y":4.84},{"s":"b","x":1.779,"y":4.74},{"s":"b","x":1.781,"y":4.70},{"s":"b","x":1.783,"y":4.80},{"s":"b","x":1.785,"y":5.00},{"s":"b","x":1.787,"y":4.82},{"s":"b","x":1.789,"y":5.02},{"s":"b","x":1.791,"y":4.86},{"s":"b","x":1.793,"y":5.08},{"s":"b","x":1.795,"y":4.90},{"s":"b","x":1.797,"y":5.10},{"s":"b","x":1.799,"y":4.84},{"s":"b","x":1.801,"y":5.04},{"s":"b","x":1.803,"y":4.80},{"s":"b","x":1.805,"y":5.00},{"s":"b","x":1.807,"y":4.86},{"s":"b","x":1.809,"y":5.08},{"s":"b","x":1.811,"y":4.88},{"s":"b","x":1.813,"y":5.04},{"s":"b","x":1.815,"y":4.82},{"s":"b","x":1.817,"y":5.00},{"s":"b","x":1.819,"y":5.06},{"s":"b","x":1.821,"y":4.74},{"s":"b","x":1.823,"y":4.98},{"s":"b","x":1.825,"y":5.10},{"s":"b","x":1.827,"y":4.88},{"s":"b","x":1.829,"y":5.04},{"s":"b","x":1.831,"y":4.86},{"s":"b","x":1.833,"y":5.10},{"s":"b","x":1.835,"y":4.90},{"s":"b","x":1.837,"y":5.06},{"s":"b","x":1.839,"y":4.84},{"s":"b","x":1.841,"y":5.12},{"s":"b","x":1.843,"y":4.90},{"s":"b","x":1.845,"y":5.06},{"s":"b","x":1.847,"y":4.82},{"s":"b","x":1.849,"y":5.08},{"s":"b","x":1.851,"y":4.92},{"s":"b","x":1.853,"y":5.10},{"s":"b","x":1.855,"y":4.86},{"s":"b","x":1.857,"y":5.04},{"s":"b","x":1.859,"y":4.80},{"s":"b","x":1.861,"y":5.02},{"s":"b","x":1.863,"y":4.88},{"s":"b","x":1.865,"y":5.08},{"s":"b","x":1.867,"y":4.86},{"s":"b","x":1.869,"y":5.02},{"s":"b","x":1.871,"y":4.90},{"s":"b","x":1.873,"y":5.08},{"s":"b","x":1.875,"y":4.88},{"s":"b","x":1.877,"y":5.04},{"s":"b","x":1.879,"y":4.82},{"s":"b","x":1.881,"y":5.02},{"s":"b","x":1.883,"y":4.86},{"s":"b","x":1.885,"y":5.06},{"s":"b","x":1.887,"y":4.84},{"s":"b","x":1.889,"y":5.02},{"s":"b","x":1.891,"y":4.88},{"s":"b","x":1.893,"y":5.00},{"s":"b","x":1.895,"y":4.82},{"s":"b","x":1.897,"y":4.98},{"s":"b","x":1.899,"y":4.86},{"s":"b","x":1.901,"y":5.02},{"s":"b","x":1.903,"y":4.84},{"s":"b","x":1.905,"y":4.98},{"s":"b","x":1.907,"y":4.80},{"s":"b","x":1.909,"y":4.96},{"s":"b","x":1.911,"y":4.86},{"s":"b","x":1.913,"y":5.00},{"s":"b","x":1.915,"y":4.82},{"s":"b","x":1.917,"y":4.92},{"s":"b","x":1.919,"y":4.84},{"s":"b","x":1.921,"y":4.96},{"s":"b","x":1.923,"y":4.80},{"s":"b","x":1.925,"y":4.90},{"s":"b","x":1.927,"y":4.84},{"s":"b","x":1.929,"y":4.94},{"s":"b","x":1.931,"y":4.80},{"s":"b","x":1.933,"y":4.88},{"s":"b","x":1.935,"y":4.82},{"s":"b","x":1.937,"y":4.96},{"s":"b","x":1.939,"y":4.84},{"s":"b","x":1.941,"y":4.98},{"s":"b","x":1.943,"y":4.86},{"s":"b","x":1.945,"y":5.00},{"s":"b","x":1.947,"y":4.88},{"s":"b","x":1.949,"y":4.96},{"s":"b","x":1.951,"y":4.86},{"s":"b","x":1.953,"y":4.92},{"s":"b","x":1.955,"y":4.84},{"s":"b","x":1.957,"y":4.90},{"s":"b","x":1.959,"y":4.82},{"s":"b","x":1.961,"y":4.86},{"s":"b","x":1.963,"y":4.78},{"s":"b","x":1.965,"y":4.84},{"s":"b","x":1.967,"y":4.74},{"s":"b","x":1.969,"y":4.80},{"s":"b","x":1.971,"y":4.70},{"s":"b","x":1.973,"y":4.78},{"s":"b","x":1.975,"y":4.68},{"s":"b","x":1.977,"y":4.76},{"s":"b","x":1.979,"y":4.66},{"s":"b","x":1.981,"y":4.74},{"s":"b","x":1.983,"y":4.68},{"s":"b","x":1.985,"y":4.76},{"s":"b","x":1.987,"y":4.66},{"s":"b","x":1.989,"y":4.72},{"s":"b","x":1.991,"y":4.64},{"s":"b","x":1.993,"y":4.72},{"s":"b","x":1.995,"y":4.66},{"s":"b","x":1.997,"y":4.70},{"s":"b","x":2.000,"y":4.68},
      {"s":"o","x":1.600,"y":5.56},{"s":"o","x":1.603,"y":5.74},{"s":"o","x":1.606,"y":5.80},{"s":"o","x":1.610,"y":5.82},{"s":"o","x":1.614,"y":5.83},{"s":"o","x":1.617,"y":5.68},{"s":"o","x":1.620,"y":5.63},{"s":"o","x":1.623,"y":5.78},{"s":"o","x":1.626,"y":5.80},{"s":"o","x":1.629,"y":5.72},{"s":"o","x":1.631,"y":5.66},{"s":"o","x":1.634,"y":5.79},{"s":"o","x":1.637,"y":5.86},{"s":"o","x":1.641,"y":5.87},{"s":"o","x":1.645,"y":5.86},{"s":"o","x":1.648,"y":5.74},{"s":"o","x":1.651,"y":5.70},{"s":"o","x":1.654,"y":5.76},{"s":"o","x":1.657,"y":5.72},{"s":"o","x":1.660,"y":5.67},{"s":"o","x":1.663,"y":5.78},{"s":"o","x":1.666,"y":5.74},{"s":"o","x":1.669,"y":5.71},{"s":"o","x":1.672,"y":5.80},{"s":"o","x":1.676,"y":5.81},{"s":"o","x":1.680,"y":5.80},{"s":"o","x":1.683,"y":5.76},{"s":"o","x":1.686,"y":5.74},{"s":"o","x":1.689,"y":5.78},{"s":"o","x":1.692,"y":5.72},{"s":"o","x":1.695,"y":5.75},{"s":"o","x":1.698,"y":5.66},{"s":"o","x":1.701,"y":5.72},{"s":"o","x":1.704,"y":5.78},{"s":"o","x":1.707,"y":5.75},{"s":"o","x":1.710,"y":5.72},{"s":"o","x":1.713,"y":5.75},{"s":"o","x":1.716,"y":5.69},{"s":"o","x":1.719,"y":5.77},{"s":"o","x":1.722,"y":5.79},{"s":"o","x":1.725,"y":5.80},{"s":"o","x":1.728,"y":5.79},{"s":"o","x":1.732,"y":5.78},{"s":"o","x":1.735,"y":5.74},{"s":"o","x":1.738,"y":5.72},{"s":"o","x":1.741,"y":5.70},{"s":"o","x":1.744,"y":5.65},{"s":"o","x":1.747,"y":5.55},{"s":"o","x":1.750,"y":5.58},{"s":"o","x":1.752,"y":5.48},{"s":"o","x":1.755,"y":5.50},{"s":"o","x":1.758,"y":5.44},{"s":"o","x":1.760,"y":5.40},{"s":"o","x":1.762,"y":5.36},{"s":"o","x":1.764,"y":5.22},{"s":"o","x":1.766,"y":5.10},{"s":"o","x":1.768,"y":5.05},{"s":"o","x":1.770,"y":5.01},{"s":"o","x":1.773,"y":5.00},{"s":"o","x":1.776,"y":4.98},{"s":"o","x":1.779,"y":4.97},{"s":"o","x":1.782,"y":5.08},{"s":"o","x":1.785,"y":5.12},{"s":"o","x":1.788,"y":5.10},{"s":"o","x":1.790,"y":5.15},{"s":"o","x":1.793,"y":5.20},{"s":"o","x":1.796,"y":5.14},{"s":"o","x":1.799,"y":5.24},{"s":"o","x":1.802,"y":5.20},{"s":"o","x":1.805,"y":5.13},{"s":"o","x":1.808,"y":5.25},{"s":"o","x":1.811,"y":5.21},{"s":"o","x":1.814,"y":5.22},{"s":"o","x":1.817,"y":5.20},{"s":"o","x":1.820,"y":5.24},{"s":"o","x":1.823,"y":5.18},{"s":"o","x":1.826,"y":5.26},{"s":"o","x":1.829,"y":5.20},{"s":"o","x":1.832,"y":5.30},{"s":"o","x":1.835,"y":5.16},{"s":"o","x":1.838,"y":5.38},{"s":"o","x":1.840,"y":5.22},{"s":"o","x":1.842,"y":5.40},{"s":"o","x":1.844,"y":5.20},{"s":"o","x":1.846,"y":5.46},{"s":"o","x":1.848,"y":5.55},{"s":"o","x":1.849,"y":5.20},{"s":"o","x":1.851,"y":5.42},{"s":"o","x":1.853,"y":5.18},{"s":"o","x":1.855,"y":5.30},{"s":"o","x":1.857,"y":5.20},{"s":"o","x":1.859,"y":5.34},{"s":"o","x":1.861,"y":5.22},{"s":"o","x":1.863,"y":5.36},{"s":"o","x":1.864,"y":5.22},{"s":"o","x":1.866,"y":5.37},{"s":"o","x":1.867,"y":5.23},{"s":"o","x":1.869,"y":5.38},{"s":"o","x":1.870,"y":5.24},{"s":"o","x":1.872,"y":5.36},{"s":"o","x":1.873,"y":5.26},{"s":"o","x":1.875,"y":5.35},{"s":"o","x":1.876,"y":5.27},{"s":"o","x":1.878,"y":5.34},{"s":"o","x":1.880,"y":5.28},{"s":"o","x":1.882,"y":5.40},{"s":"o","x":1.884,"y":5.20},{"s":"o","x":1.886,"y":5.42},{"s":"o","x":1.888,"y":5.16},{"s":"o","x":1.890,"y":5.44},{"s":"o","x":1.892,"y":5.15},{"s":"o","x":1.894,"y":5.36},{"s":"o","x":1.896,"y":5.12},{"s":"o","x":1.898,"y":5.40},{"s":"o","x":1.900,"y":5.14},{"s":"o","x":1.902,"y":5.34},{"s":"o","x":1.904,"y":5.16},{"s":"o","x":1.906,"y":5.30},{"s":"o","x":1.908,"y":5.12},{"s":"o","x":1.910,"y":5.28},{"s":"o","x":1.912,"y":5.18},{"s":"o","x":1.914,"y":5.26},{"s":"o","x":1.916,"y":5.12},{"s":"o","x":1.918,"y":5.22},{"s":"o","x":1.921,"y":5.16},{"s":"o","x":1.924,"y":5.20},{"s":"o","x":1.927,"y":5.12},{"s":"o","x":1.930,"y":5.18},{"s":"o","x":1.933,"y":5.16},{"s":"o","x":1.936,"y":5.18},{"s":"o","x":1.939,"y":5.17},{"s":"o","x":1.942,"y":5.18},{"s":"o","x":1.945,"y":5.19},{"s":"o","x":1.948,"y":5.17},{"s":"o","x":1.951,"y":5.10},{"s":"o","x":1.954,"y":5.13},{"s":"o","x":1.957,"y":5.06},{"s":"o","x":1.960,"y":5.00},{"s":"o","x":1.963,"y":4.98},{"s":"o","x":1.966,"y":4.94},{"s":"o","x":1.969,"y":4.92},{"s":"o","x":1.972,"y":4.90},{"s":"o","x":1.975,"y":4.88},{"s":"o","x":1.978,"y":4.85},{"s":"o","x":1.981,"y":4.88},{"s":"o","x":1.984,"y":4.82},{"s":"o","x":1.987,"y":4.86},{"s":"o","x":1.990,"y":4.80},{"s":"o","x":1.993,"y":4.84},{"s":"o","x":1.996,"y":4.79},{"s":"o","x":2.000,"y":4.78}
    ]
  },
  "concat": [
    {
      "width": 345, "height": 247,
      "data": {"name": "top"},
      "layer": [
        {
          "mark": {"type": "line", "clip": true},
          "encoding": {
            "x": {"field": "x", "type": "quantitative", "scale": {"domain": [1.05, 2.8], "nice": false, "zero": false}, "axis": {"title": "Wavelength in microns", "values": [1.2,1.4,1.6,1.8,2,2.2,2.4,2.6,2.8], "labelPadding": 8, "titlePadding": 9}},
            "y": {"field": "y", "type": "quantitative", "scale": {"domain": [2, 10], "nice": false, "zero": false}, "axis": {"title": "Normalised flux Fᵥ", "values": [2,3,4,5,6,7,8,9,10], "labelPadding": 13, "titlePadding": 9, "minExtent": 21, "maxExtent": 21}},
            "color": {"field": "s", "type": "nominal", "scale": {"domain": ["o","a","b"], "range": ["#000000","#777777","#999999"]}, "legend": {"legendX": 313, "legendY": 4, "labelExpr": "datum.value == 'o' ? 'V4334 Sgr on April 21, 1997' : datum.value == 'a' ? '5500/0, log N(C) = -1.62' : '5500/0, log N(C) = -1.05'"}},
            "strokeWidth": {"field": "s", "type": "nominal", "scale": {"domain": ["o","a","b"], "range": [2, 1.5, 1]}, "legend": {"legendX": 313, "legendY": 4, "labelExpr": "datum.value == 'o' ? 'V4334 Sgr on April 21, 1997' : datum.value == 'a' ? '5500/0, log N(C) = -1.62' : '5500/0, log N(C) = -1.05'"}}
          }
        },
        {
          "mark": {"type": "point", "opacity": 0},
          "encoding": {
            "x": {"field": "x", "type": "quantitative", "axis": {"orient": "top", "labels": false, "title": null, "values": [1.2,1.4,1.6,1.8,2,2.2,2.4,2.6,2.8]}},
            "y": {"field": "y", "type": "quantitative", "axis": {"orient": "right", "labels": false, "title": null, "values": [2,3,4,5,6,7,8,9,10]}}
          }
        }
      ],
      "resolve": {"axis": {"x": "independent", "y": "independent"}}
    },
    {
      "width": 351, "height": 250,
      "data": {"name": "bot"},
      "layer": [
        {
          "mark": {"type": "line", "clip": true},
          "encoding": {
            "x": {"field": "x", "type": "quantitative", "scale": {"domain": [1.6, 2.0], "nice": false, "zero": false}, "axis": {"title": "Wavelength in microns", "values": [1.6,1.65,1.7,1.75,1.8,1.85,1.9,1.95,2], "labelPadding": 12, "titlePadding": 8}},
            "y": {"field": "y", "type": "quantitative", "scale": {"domain": [4.6, 6], "nice": false, "zero": false}, "axis": {"title": "Normalised flux Fᵥ", "values": [4.6,4.8,5,5.2,5.4,5.6,5.8,6], "labelPadding": 11, "titlePadding": 9, "minExtent": 21, "maxExtent": 21}},
            "color": {"field": "s", "type": "nominal", "scale": {"domain": ["o","a","b"], "range": ["#000000","#555555","#c4c4c4"]}, "legend": {"legendX": 311, "legendY": 9, "labelExpr": "datum.value == 'o' ? 'V4334 Sgr on April 21, 1997' : datum.value == 'a' ? '5500/0, log N(C) = -1.62' : '5500/0, log N(C) = -1.05'"}},
            "strokeWidth": {"field": "s", "type": "nominal", "scale": {"domain": ["o","a","b"], "range": [2, 1, 1.5]}, "legend": {"legendX": 311, "legendY": 9, "labelExpr": "datum.value == 'o' ? 'V4334 Sgr on April 21, 1997' : datum.value == 'a' ? '5500/0, log N(C) = -1.62' : '5500/0, log N(C) = -1.05'"}}
          }
        },
        {
          "mark": {"type": "point", "opacity": 0},
          "encoding": {
            "x": {"field": "x", "type": "quantitative", "axis": {"orient": "top", "labels": false, "title": null, "values": [1.6,1.65,1.7,1.75,1.8,1.85,1.9,1.95,2]}},
            "y": {"field": "y", "type": "quantitative", "axis": {"orient": "right", "labels": false, "title": null, "values": [4.6,4.8,5,5.2,5.4,5.6,5.8,6]}}
          }
        }
      ],
      "resolve": {"axis": {"x": "independent", "y": "independent"}}
    }
  ]
}
